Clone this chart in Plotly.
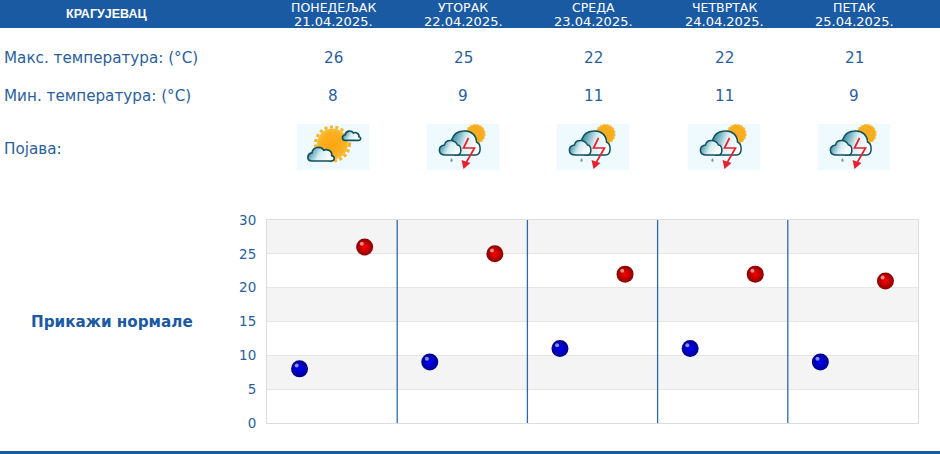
import base64
import plotly.graph_objects as go

W, H = 940, 454
station = "КРАГУЈЕВАЦ"
days = ["ПОНЕДЕЉАК", "УТОРАК", "СРЕДА", "ЧЕТВРТАК", "ПЕТАК"]
dates = ["21.04.2025.", "22.04.2025.", "23.04.2025.", "24.04.2025.", "25.04.2025."]
t_max = [26, 25, 22, 22, 21]
t_min = [8, 9, 11, 11, 9]
icons = ["sun", "storm", "storm", "storm", "storm"]
y_ticks = [0, 5, 10, 15, 20, 25, 30]

BLUE = "#1a5aa3"
TEXT = "#2b5f9c"
FONT = "DejaVu Sans"


# the plot area and everything else is placed in page pixels, so convert to paper
def px(x):
    return x / W


def py(y):
    return 1 - y / H


def cloud(x, y, s):
    return (
        f'<path transform="translate({x} {y}) scale({s})" fill="url(#c)" stroke="#10505f" stroke-width="{1.6 / s}" '
        'd="M6 20 C0 20 0 12 6 11 C7 4 16 3 19 8 C23 6 29 9 28 14 C32 15 32 20 27 20 Z"/>'
    )


defs = (
    '<defs><linearGradient id="c" x1="0" x2="1" y1="0" y2="0.3">'
    '<stop offset="0" stop-color="#11708a"/><stop offset="0.55" stop-color="#d5eef2"/>'
    '<stop offset="1" stop-color="#ffffff"/></linearGradient>'
    '<radialGradient id="s"><stop offset="0" stop-color="#ffa410"/><stop offset="0.75" stop-color="#fbb020"/>'
    '<stop offset="1" stop-color="#f4c040"/></radialGradient></defs>'
    '<rect width="73" height="46" fill="#eefaff"/>'
)

sun_icon = (
    '<svg xmlns="http://www.w3.org/2000/svg" width="73" height="46" viewBox="0 0 73 46">' + defs
    + '<circle cx="36" cy="20" r="17" fill="none" stroke="#f6b52c" stroke-width="3" stroke-dasharray="3 2.5"/>'
    + '<circle cx="36" cy="20" r="15.5" fill="url(#s)"/>'
    + cloud(45, 4, 0.62) + cloud(10, 19, 0.9)
    + '</svg>'
)

storm_icon = (
    '<svg xmlns="http://www.w3.org/2000/svg" width="73" height="46" viewBox="0 0 73 46">' + defs
    + '<circle cx="49" cy="10" r="9.5" fill="#f9ad1e" stroke="#f6c050" stroke-width="1.5" stroke-dasharray="2 1.5"/>'
    + '<path d="M28 31 C22 20 24 8 37 7 C45 6 50 12 50 18 C55 20 55 31 49 31 Z" fill="url(#c)" stroke="#10505f" stroke-width="1.5"/>'
    + '<path d="M19 31 C11 31 11 22 18 21 C19 15 28 15 31 21 C35 21 36 31 31 31 Z" fill="url(#c)" stroke="#10505f" stroke-width="1.5"/>'
    + '<path d="M42 14 L37 24 L48 24 L40 38" fill="none" stroke="#e8202c" stroke-width="1.7"/>'
    + '<path d="M37 45 L35 36 L44 39 Z" fill="#e8202c"/>'
    + '<path d="M25 34 q-2.5 3 0 4 q2.5 -1 0 -4" fill="#7f9ca3"/>'
    + '</svg>'
)
icon_svg = {"sun": sun_icon, "storm": storm_icon}


def data_uri(svg):
    return "data:image/svg+xml;base64," + base64.b64encode(svg.encode()).decode()


n = len(days)
x_min = [i + 0.25 for i in range(n)]
x_max = [i + 0.75 for i in range(n)]

fig = go.Figure()

# radial gradient: gradient.color is the centre, marker.color the rim
fig.add_trace(go.Scatter(x=x_min, y=t_min, mode="markers", hoverinfo="y",
                         marker=dict(size=17, color="#000088", line=dict(width=0),
                                     gradient=dict(type="radial", color="#0000ff"))))
fig.add_trace(go.Scatter(x=x_max, y=t_max, mode="markers", hoverinfo="y",
                         marker=dict(size=17, color="#880000", line=dict(width=0),
                                     gradient=dict(type="radial", color="#ff0000"))))
# little shine on the balls
fig.add_trace(go.Scatter(x=[v - 0.022 for v in x_min + x_max], y=[v + 0.5 for v in t_min + t_max],
                         mode="markers", hoverinfo="skip",
                         marker=dict(size=4, color="rgba(255,255,255,0.55)", line=dict(width=0))))

shapes = []
# header and footer bars
shapes.append(dict(type="rect", xref="paper", yref="paper", x0=0, x1=1, y0=py(28), y1=1,
                   fillcolor=BLUE, line_width=0, layer="below"))
shapes.append(dict(type="rect", xref="paper", yref="paper", x0=0, x1=1, y0=0, y1=py(451),
                   fillcolor=BLUE, line_width=0, layer="below"))
# grey bands
for lo in [5, 15, 25]:
    shapes.append(dict(type="rect", xref="x", yref="y", x0=0, x1=n, y0=lo, y1=lo + 5,
                       fillcolor="#f4f4f4", line_width=0, layer="below"))
# day separators
for i in range(1, n):
    shapes.append(dict(type="line", xref="x", yref="y", x0=i, x1=i, y0=0, y1=30,
                       line=dict(color="#2b6aa8", width=1.3), layer="above"))

annotations = []


def label(x, y, text, size=15.2, color=TEXT, anchor="center", bold=False, family=FONT):
    if bold:
        text = "<b>" + text + "</b>"
    annotations.append(dict(xref="paper", yref="paper", x=px(x), y=py(y), text=text, showarrow=False,
                            xanchor=anchor, yanchor="middle", borderpad=0,
                            font=dict(family=family, size=size, color=color)))


label(106, 14, station, size=12.5, color="white", bold=True, family="Liberation Sans")
label(3, 58, "Макс. температура: (°C)", anchor="left")
label(3, 96, "Мин. температура: (°C)", anchor="left")
label(3, 149, "Појава:", anchor="left")
label(112, 322, "Прикажи нормале", size=15.2, color=BLUE, bold=True)

images = []
centers = [333, 463, 593, 724, 854]
for c, d, dt, hi, lo, ic in zip(centers, days, dates, t_max, t_min, icons):
    label(c, 7.5, d, size=12.5, color="white")
    label(c, 21.5, dt, size=13, color="white")
    label(c, 58, str(hi))
    label(c, 96, str(lo))
    images.append(dict(source=data_uri(icon_svg[ic]), xref="paper", yref="paper", x=px(c - 36.5), y=py(124),
                       sizex=73 / W, sizey=46 / H, xanchor="left", yanchor="top", sizing="stretch", layer="above"))

fig.update_layout(
    width=W, height=H, autosize=False,
    margin=dict(l=0, r=0, t=0, b=0),
    paper_bgcolor="white", plot_bgcolor="white",
    showlegend=False,
    shapes=shapes, annotations=annotations, images=images,
    xaxis=dict(domain=[px(267), px(918)], range=[0, n], automargin=False, showticklabels=False, showgrid=False,
               zeroline=False, showline=True, linecolor="#dddddd", linewidth=1, mirror=True, ticks=""),
    yaxis=dict(domain=[py(423), py(220)], range=[0, 30], automargin=False, tickvals=y_ticks, showgrid=True,
               gridcolor="#e6e6e6", gridwidth=1, zeroline=False, showline=True, linecolor="#dddddd", linewidth=1,
               mirror=True, ticks="outside", ticklen=7, tickcolor="white",
               tickfont=dict(family=FONT, size=13.5, color=TEXT)),
)

# page has its own 8px margin, drop it
fig.write_html("out.html", config={"displayModeBar": False},
               post_script="document.body.style.margin='0';document.documentElement.style.overflow='hidden';")
